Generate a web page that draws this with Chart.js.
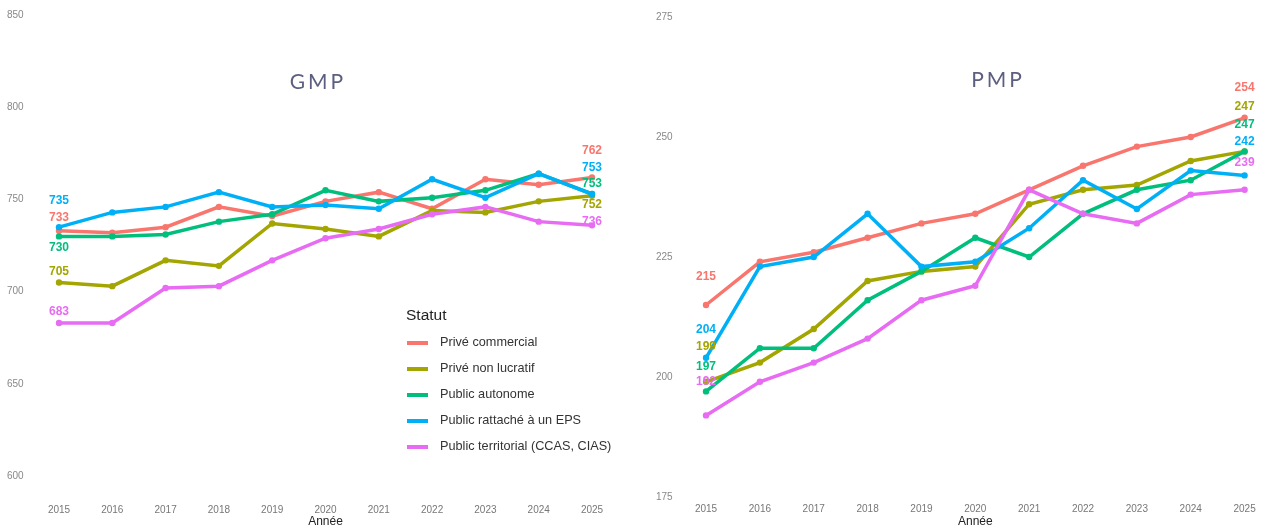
<!DOCTYPE html>
<html><head><meta charset="utf-8">
<script src="https://cdn.jsdelivr.net/npm/chart.js@4/dist/chart.umd.min.js"></script>
<style>
html,body{margin:0;padding:0;background:#fff;overflow:hidden;width:1263px;height:526px;position:relative;font-family:"Liberation Sans",Arial,sans-serif}
canvas{position:absolute;top:0}
#c1{left:0}
#c2{left:640px}
.ttl{position:absolute;font-family:Lato,"Open Sans",sans-serif;font-size:21px;color:#5d5f80;letter-spacing:3px;transform:translate(-50%,-50%);white-space:nowrap}
#legend{position:absolute;left:406px;top:304px;color:#222}
#legend .lt{font-size:15.5px;line-height:22px;margin-bottom:4px}
#legend .it{position:relative;height:26px;font-size:12.7px;color:#333}
#legend .sw{position:absolute;left:1px;top:11px;width:21px;height:4px}
#legend .tx{position:absolute;left:34px;top:5px;white-space:nowrap}
</style></head>
<body>
<canvas id="c1" width="640" height="526"></canvas>
<canvas id="c2" width="640" height="526"></canvas>
<div class="ttl" style="left:318px;top:80px">GMP</div>
<div class="ttl" style="left:998px;top:78px">PMP</div>
<div id="legend"></div>
<script>
const years = ["2015","2016","2017","2018","2019","2020","2021","2022","2023","2024","2025"];
const seriesNames = ["Privé commercial","Privé non lucratif","Public autonome","Public rattaché à un EPS","Public territorial (CCAS, CIAS)"];
const seriesColors = ["#F8766D","#A3A500","#00BF7D","#00B0F6","#E76BF3"];
const legendTitle = "Statut";
const xTitle = "Année";

// GMP
const gmpPriveCommercial = [733,732,735,746,741,749,754,745,761,758,762];
const gmpPriveNonLucratif = [705,703,717,714,737,734,730,744,743,749,752];
const gmpPublicAutonome = [730,730,731,738,742,755,749,751,755,764,753];
const gmpPublicEPS = [735,743,746,754,746,747,745,761,751,764,753];
const gmpPublicTerritorial = [683,683,702,703,717,729,734,742,746,738,736];

// PMP
const pmpPriveCommercial = [215,224,226,229,232,234,239,244,248,250,254];
const pmpPriveNonLucratif = [199,203,210,220,222,223,236,239,240,245,247];
const pmpPublicAutonome = [197,206,206,216,222,229,225,234,239,241,247];
const pmpPublicEPS = [204,223,225,234,223,224,231,241,235,243,242];
const pmpPublicTerritorial = [192,199,203,208,216,219,239,234,232,238,239];

const endLabels = {
  id: 'endLabels',
  afterDatasetsDraw(chart, args, opts) {
    const ctx = chart.ctx;
    ctx.save();
    ctx.font = 'bold 12px "Liberation Sans", Arial, sans-serif';
    ctx.textAlign = 'center';
    ctx.textBaseline = 'middle';
    chart.data.datasets.forEach((ds, i) => {
      const pts = chart.getDatasetMeta(i).data;
      [[0, opts.first[i]], [pts.length - 1, opts.last[i]]].forEach(([k, dy]) => {
        const p = pts[k];
        ctx.fillStyle = ds.borderColor;
        ctx.fillText(String(ds.data[k]), p.x, p.y + dy);
      });
    });
    ctx.restore();
  }
};

function makeChart(id, seriesList, cfg) {
  const datasets = seriesList.map((vals, i) => ({
    label: seriesNames[i],
    data: vals,
    borderColor: seriesColors[i],
    backgroundColor: seriesColors[i],
    borderWidth: 3.5,
    pointRadius: 3.2,
    pointBorderWidth: 0,
    tension: 0,
    order: seriesList.length - i
  }));
  return new Chart(document.getElementById(id), {
    type: 'line',
    data: { labels: years, datasets },
    plugins: [endLabels],
    options: {
      responsive: false,
      animation: false,
      devicePixelRatio: 1,
      layout: { padding: { top: cfg.padTop, left: cfg.padLeft, right: cfg.padRight, bottom: 0 } },
      plugins: {
        legend: { display: false },
        tooltip: { enabled: false },
        endLabels: { first: cfg.first, last: cfg.last }
      },
      scales: {
        x: {
          type: 'category',
          offset: true,
          grid: { display: false, drawTicks: false },
          border: { display: false },
          ticks: { color: '#777', font: { size: 10, family: '"Liberation Sans", Arial, sans-serif' }, padding: cfg.xTickPad, autoSkip: false, maxRotation: 0 },
          title: { display: true, text: xTitle, color: '#222', font: { size: 12, family: '"Liberation Sans", Arial, sans-serif' }, padding: { top: 0, bottom: -3 } },
          afterFit(s) { s.height = cfg.xAxisH; }
        },
        y: {
          type: 'linear',
          min: cfg.yMin, max: cfg.yMax,
          grid: { display: false, drawTicks: false },
          border: { display: false },
          ticks: { stepSize: cfg.step, includeBounds: false, color: '#888', crossAlign: 'far', padding: 0, font: { size: 10, family: '"Liberation Sans", Arial, sans-serif' } },
          afterFit(s) { s.width = cfg.yAxisW; }
        }
      }
    }
  });
}

makeChart('c1', [gmpPriveCommercial, gmpPriveNonLucratif, gmpPublicAutonome, gmpPublicEPS, gmpPublicTerritorial], {
  yMin: 595, yMax: 855, step: 50,
  padTop: 5.8, padLeft: 7, padRight: 21.35, yAxisW: 25.35, xAxisH: 40.8, xTickPad: 19,
  first: [-13, -11, 11, -26, -11],
  last: [-27, 9, -10, -26, -4]
});

makeChart('c2', [pmpPriveCommercial, pmpPriveNonLucratif, pmpPublicAutonome, pmpPublicEPS, pmpPublicTerritorial], {
  yMin: 174, yMax: 277, step: 25,
  padTop: 7.4, padLeft: 16, padRight: 8.5, yAxisW: 23.1, xAxisH: 24.2, xTickPad: 1,
  first: [-28, -35, -25, -28, -34],
  last: [-30, -45, -27, -34, -27]
});

const lg = document.getElementById('legend');
const t = document.createElement('div'); t.className = 'lt'; t.textContent = legendTitle; lg.appendChild(t);
seriesNames.forEach((n, i) => {
  const it = document.createElement('div'); it.className = 'it';
  const sw = document.createElement('div'); sw.className = 'sw'; sw.style.background = seriesColors[i];
  const tx = document.createElement('div'); tx.className = 'tx'; tx.textContent = n;
  it.appendChild(sw); it.appendChild(tx); lg.appendChild(it);
});
</script>
</body></html>
